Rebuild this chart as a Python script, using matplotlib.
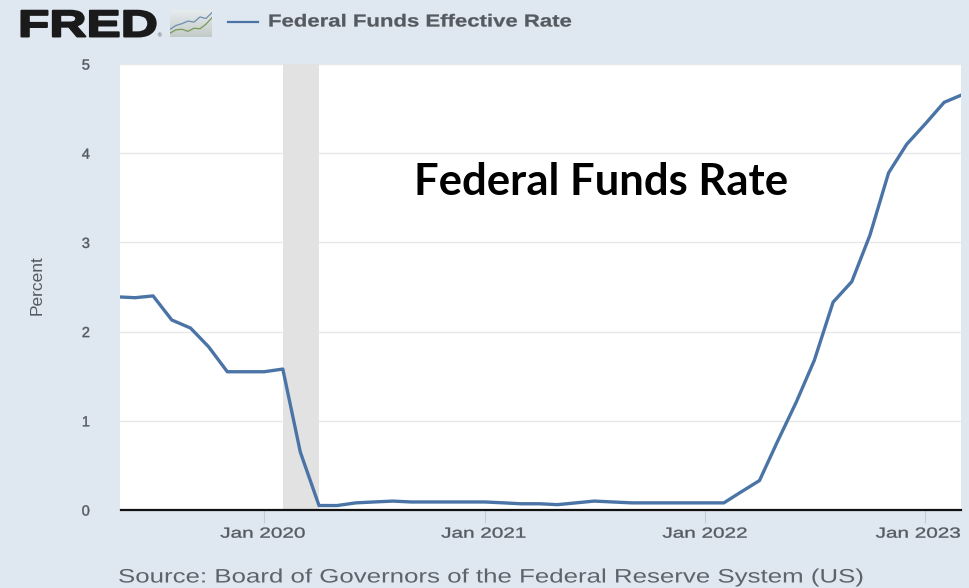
import matplotlib
matplotlib.use("Agg")
import matplotlib.pyplot as plt
import matplotlib.dates as mdates
import matplotlib.patheffects as pe
from matplotlib.transforms import Affine2D
import numpy as np
import pandas as pd

# Monthly effective federal funds rate, percent
months = pd.date_range("2019-05-01", "2023-03-01", freq="MS")
rate = [2.39, 2.38, 2.40, 2.13, 2.04, 1.83, 1.55, 1.55,
        1.55, 1.58, 0.65, 0.05, 0.05, 0.08, 0.09, 0.10, 0.09, 0.09, 0.09, 0.09,
        0.09, 0.08, 0.07, 0.07, 0.06, 0.08, 0.10, 0.09, 0.08, 0.08, 0.08, 0.08,
        0.08, 0.08, 0.20, 0.33, 0.77, 1.21, 1.68, 2.33, 2.56, 3.08, 3.78, 4.10,
        4.33, 4.57, 4.65]
recession_start = "2020-02-01"
recession_end = "2020-04-01"
axis_start = "2019-05-08"
y_ticks = [0, 1, 2, 3, 4, 5]
x_ticks = ["2020-01-01", "2021-01-01", "2022-01-01", "2023-01-01"]
x_tick_labels = ["Jan 2020", "Jan 2021", "Jan 2022", "Jan 2023"]

# Small sparkline values for the logo badge
badge_x = [0, 1, 2, 3, 4, 5, 6, 7]
badge_blue = [0.30, 0.45, 0.52, 0.62, 0.58, 0.78, 0.72, 0.95]
badge_green = [0.15, 0.28, 0.30, 0.22, 0.34, 0.32, 0.50, 0.75]

BG = "#dfe7f0"
LINE = "#4b74a6"
TEXT = "#555a60"
W, H = 970, 588


class StretchedStroke(pe.AbstractPathEffect):
    """Widen glyphs horizontally about a display x position, with an outline."""

    def __init__(self, sx, x0, lw=0.0, dx=0.0):
        super().__init__()
        self.sx, self.x0, self.lw, self.dx = sx, x0, lw, dx

    def draw_path(self, renderer, gc, tpath, affine, rgbFace):
        gc0 = renderer.new_gc()
        gc0.copy_properties(gc)
        gc0.set_linewidth(self.lw)
        gc0.set_foreground(rgbFace if rgbFace is not None else "k")
        wide = affine + Affine2D().translate(-self.x0, 0).scale(self.sx, 1).translate(self.x0 + self.dx, 0)
        renderer.draw_path(gc0, tpath, wide, rgbFace)
        gc0.restore()


def fx(px):
    return px / W


def fy(py):
    return 1 - py / H


def stretched_text(fig, px, py, s, sx, lw=0.0, **kw):
    t = fig.text(fx(px), fy(py), s, ha="left", va="center", **kw)
    t.set_path_effects([StretchedStroke(sx, px, lw)])
    return t


fig = plt.figure(figsize=(W / 100, H / 100), dpi=100, facecolor=BG)
ax = fig.add_axes([fx(120.5), fy(510), fx(961 - 120.5), (510 - 64) / H], facecolor="white")

ax.axvspan(pd.Timestamp(recession_start), pd.Timestamp(recession_end), color="#e2e2e2", lw=0, zorder=1)
ax.set_axisbelow(True)
ax.yaxis.grid(True, color="#e8e8e8", lw=1)
ax.plot(months, rate, color=LINE, lw=2.4, solid_joinstyle="round", zorder=3, clip_on=True)

ax.set_xlim(pd.Timestamp(axis_start), months[-1])
ax.set_ylim(0, 5)
ax.set_yticks(y_ticks)
tick_nums = [mdates.date2num(pd.Timestamp(d)) for d in x_ticks]
ax.set_xticks(tick_nums)
ax.set_xticklabels(x_tick_labels, family="Liberation Sans", fontsize=10.5, color=TEXT)
ax.tick_params(axis="x", length=9, width=0.8, color="#c4ccd4", pad=3)
ax.tick_params(axis="y", length=0, pad=22, labelsize=10.5, labelcolor=TEXT)
for lab in ax.get_yticklabels():
    lab.set_family("Liberation Sans")
    lab.set_path_effects([StretchedStroke(1.0, 0, 0.3)])

# The last date label is pulled left so it stays inside the frame
for lab, num, shift in zip(ax.get_xticklabels(), tick_nums, [-1, -1, 0, -7]):
    centre = ax.transData.transform((num, 0))[0]
    lab.set_path_effects([StretchedStroke(1.42, centre, 0.25, shift)])

for name in ("top", "left", "right"):
    ax.spines[name].set_visible(False)
ax.spines["bottom"].set_color("#111111")
ax.spines["bottom"].set_linewidth(1.6)
ax.spines["bottom"].set_zorder(4)

# Overlaid heading inside the plot
ax.text(0.349, 0.7355, "Federal Funds Rate", transform=ax.transAxes, family="Lato",
        weight="bold", fontsize=31.4, color="black", ha="left", va="center", zorder=5)

# Axis title and source line
fig.text(fx(37), fy(285), "Percent", rotation=90, ha="center", va="center",
         family="Liberation Sans", fontsize=12.5, color=TEXT)
stretched_text(fig, 118, 578, "Source: Board of Governors of the Federal Reserve System (US)", 1.33,
               family="Liberation Sans", fontsize=14, color="#5f646a")

# Header: wordmark, badge and legend entry
stretched_text(fig, 18, 26.5, "FRED", 1.37, lw=1.4, family="Liberation Sans", weight="bold",
               fontsize=27, color="#1a1a1a")
fig.text(fx(159), fy(36), "®", fontsize=4, color="#555555", ha="center", va="center")

badge = fig.add_axes([fx(170), fy(37), fx(42), 27 / H], facecolor="#d6dcdc")
badge.imshow(np.linspace(0, 1, 32).reshape(-1, 1), extent=(0, 7, 0, 1.05), aspect="auto",
             cmap=matplotlib.colors.LinearSegmentedColormap.from_list("b", ["#e6ebee", "#c3cbc8"]))
badge.plot(badge_x, badge_blue, color="#6f8fb0", lw=0.9)
badge.plot(badge_x, badge_green, color="#7a9a55", lw=0.9)
badge.set_xlim(0, 7)
badge.set_ylim(0, 1.05)
badge.axis("off")

fig.add_artist(plt.Line2D([fx(228), fx(258)], [fy(22), fy(22)], color=LINE, lw=1.6))
stretched_text(fig, 268, 22, "Federal Funds Effective Rate", 1.275, lw=0.2, family="Liberation Sans",
               weight="bold", fontsize=12.5, color=TEXT)

fig.savefig("out.png", dpi=100, facecolor=BG)
